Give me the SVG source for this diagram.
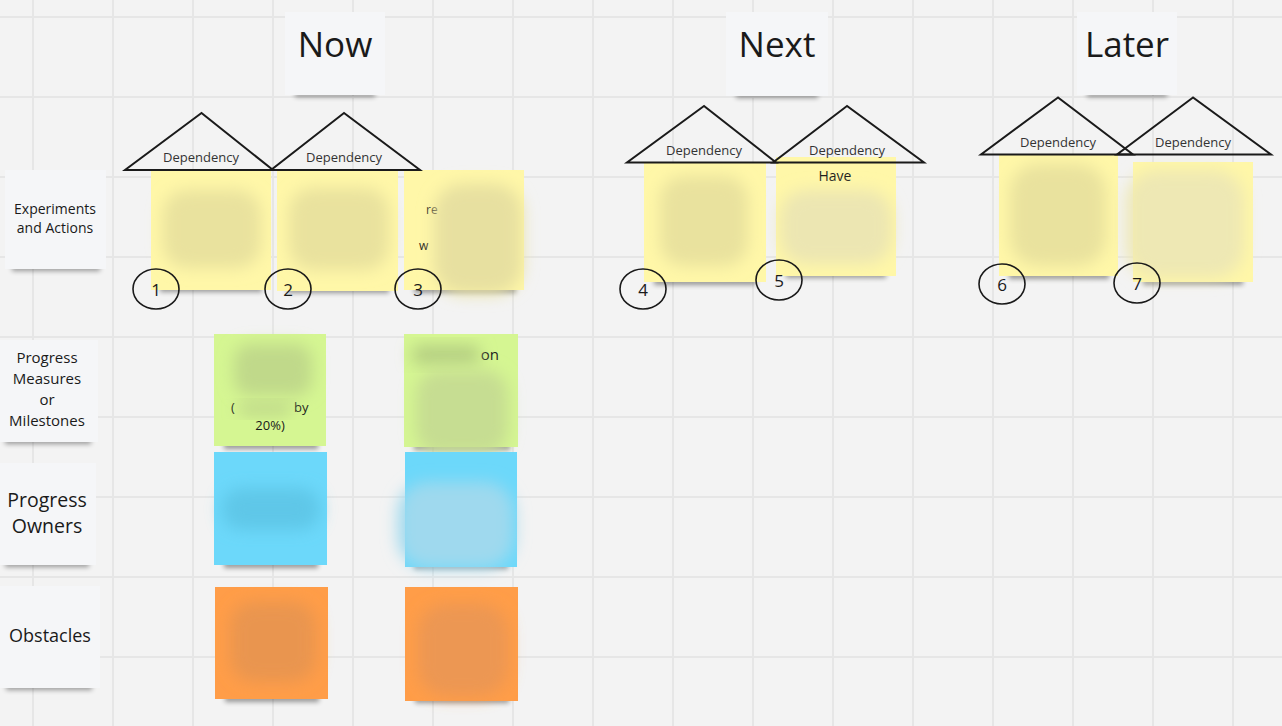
<svg xmlns="http://www.w3.org/2000/svg" width="1282" height="726" viewBox="0 0 1282 726">
<style>
text{font-family:"Open Sans","Liberation Sans",sans-serif;fill:#1a1a1a}
.grid line{stroke:#e6e6e6;stroke-width:2}
.card{fill:#f5f6f8}
.shadow{fill:#000;opacity:.38;filter:url(#sh)}
.head{font-size:35px;text-anchor:middle}
.lbl{text-anchor:middle}
.tri{fill:none;stroke:#1a1a1a;stroke-width:2;stroke-linejoin:miter}
.dep{font-size:13px;text-anchor:middle;fill:#333}
.num{fill:none;stroke:#1a1a1a;stroke-width:1.6}
.numt{font-size:17px;text-anchor:middle}
.yel{fill:#fff7a8}
.grn{fill:#d5f692}
.blu{fill:#6cd8fa}
.org{fill:#ff9d48}
.blob{filter:url(#bl)}
</style>
<defs>
<filter id="sh" x="-20%" y="-200%" width="140%" height="500%"><feGaussianBlur stdDeviation="2.5"/></filter>
<filter id="bl" x="-40%" y="-40%" width="180%" height="180%"><feGaussianBlur stdDeviation="8"/></filter>
</defs>
<rect width="1282" height="726" fill="#f3f3f3"/>
<g class="grid">
<line x1="33" y1="0" x2="33" y2="726"/><line x1="113" y1="0" x2="113" y2="726"/><line x1="193" y1="0" x2="193" y2="726"/><line x1="273" y1="0" x2="273" y2="726"/><line x1="353" y1="0" x2="353" y2="726"/><line x1="433" y1="0" x2="433" y2="726"/><line x1="513" y1="0" x2="513" y2="726"/><line x1="593" y1="0" x2="593" y2="726"/><line x1="673" y1="0" x2="673" y2="726"/><line x1="753" y1="0" x2="753" y2="726"/><line x1="833" y1="0" x2="833" y2="726"/><line x1="913" y1="0" x2="913" y2="726"/><line x1="993" y1="0" x2="993" y2="726"/><line x1="1073" y1="0" x2="1073" y2="726"/><line x1="1153" y1="0" x2="1153" y2="726"/><line x1="1233" y1="0" x2="1233" y2="726"/>
<line x1="0" y1="17" x2="1282" y2="17"/><line x1="0" y1="97" x2="1282" y2="97"/><line x1="0" y1="177" x2="1282" y2="177"/><line x1="0" y1="257" x2="1282" y2="257"/><line x1="0" y1="337" x2="1282" y2="337"/><line x1="0" y1="417" x2="1282" y2="417"/><line x1="0" y1="497" x2="1282" y2="497"/><line x1="0" y1="577" x2="1282" y2="577"/><line x1="0" y1="657" x2="1282" y2="657"/>
</g>

<g id="header-now"><rect class="shadow" x="295" y="91" width="80" height="6"/><rect class="card" x="285" y="12" width="100" height="83"/><text class="head" x="335" y="57">Now</text></g>
<g id="header-next"><rect class="shadow" x="736" y="92" width="82" height="6"/><rect class="card" x="726" y="12" width="102" height="84"/><text class="head" x="777" y="57">Next</text></g>
<g id="header-later"><rect class="shadow" x="1087" y="91" width="80" height="6"/><rect class="card" x="1077" y="12" width="100" height="83"/><text class="head" x="1127" y="57">Later</text></g>

<g id="label-experiments"><rect class="shadow" x="12" y="265" width="88" height="6"/><rect class="card" x="5" y="170" width="101" height="99"/><text class="lbl" x="55" y="214" font-size="14">Experiments</text><text class="lbl" x="55" y="233" font-size="14">and Actions</text></g>
<g id="label-measures"><rect class="shadow" x="5" y="438" width="86" height="6"/><rect class="card" x="0" y="340" width="98" height="102"/><text class="lbl" x="47" y="363" font-size="15">Progress</text><text class="lbl" x="47" y="384" font-size="15">Measures</text><text class="lbl" x="47" y="405" font-size="15">or</text><text class="lbl" x="47" y="426" font-size="15">Milestones</text></g>
<g id="label-owners"><rect class="shadow" x="5" y="561" width="84" height="6"/><rect class="card" x="0" y="463" width="96" height="102"/><text class="lbl" x="47" y="507" font-size="19.5">Progress</text><text class="lbl" x="47" y="533" font-size="19.5">Owners</text></g>
<g id="label-obstacles"><rect class="shadow" x="6" y="684" width="86" height="6"/><rect class="card" x="0" y="586" width="100" height="102"/><text class="lbl" x="50" y="642" font-size="18">Obstacles</text></g>

<g id="note-y1"><rect class="shadow" x="160" y="285" width="102" height="7"/><rect class="yel" x="151" y="171" width="120" height="119"/><rect class="blob" x="163" y="190" width="98" height="78" rx="24" fill="#e9e29e"/></g>
<g id="note-y2"><rect class="shadow" x="287" y="286" width="102" height="7"/><rect class="yel" x="277" y="171" width="121" height="120"/><rect class="blob" x="289" y="188" width="100" height="82" rx="24" fill="#e9e29e"/></g>
<g id="note-y3"><rect class="shadow" x="414" y="286" width="102" height="7"/><rect class="yel" x="404" y="170" width="120" height="120"/><text x="426" y="214" font-size="12" fill="#555">re</text><text x="419" y="250" font-size="12" fill="#555">w</text><rect class="blob" x="434" y="184" width="88" height="110" rx="28" fill="#e7e0a0"/></g>
<g id="note-y4"><rect class="shadow" x="654" y="278" width="102" height="7"/><rect class="yel" x="644" y="162" width="122" height="120"/><rect class="blob" x="660" y="176" width="88" height="90" rx="24" fill="#e9e29e"/></g>
<g id="note-y5"><rect class="shadow" x="786" y="271" width="100" height="7"/><rect class="yel" x="776" y="157" width="120" height="119"/><text x="835" y="181" font-size="14" text-anchor="middle" fill="#8a8560">Have</text><rect class="blob" x="780" y="190" width="112" height="74" rx="26" fill="#ece6b2"/></g>
<g id="note-y6"><rect class="shadow" x="1009" y="272" width="100" height="7"/><rect class="yel" x="999" y="154" width="119" height="122"/><rect class="blob" x="1010" y="164" width="96" height="102" rx="28" fill="#e9e29e"/></g>
<g id="note-y7"><rect class="shadow" x="1143" y="278" width="100" height="7"/><rect class="yel" x="1133" y="162" width="120" height="120"/><rect class="blob" x="1126" y="170" width="118" height="108" rx="30" fill="#eee8b4"/></g>

<g id="note-g1"><rect class="shadow" x="224" y="442" width="94" height="7"/><rect class="grn" x="214" y="334" width="112" height="112"/><text x="231" y="412" font-size="13" fill="#444">(</text><text x="294" y="412" font-size="13" fill="#444">by</text><text x="270" y="430" font-size="13" text-anchor="middle" fill="#333">20%)</text><rect class="blob" x="234" y="344" width="78" height="52" rx="16" fill="#c0d98a"/><rect class="blob" x="238" y="403" width="54" height="12" rx="6" fill="#bcd488"/></g>
<g id="note-g2"><rect class="shadow" x="414" y="443" width="96" height="7"/><rect class="grn" x="404" y="334" width="114" height="113"/><text x="499" y="360" font-size="15" text-anchor="end" fill="#222">on</text><rect class="blob" x="412" y="345" width="68" height="20" rx="8" fill="#b5cf82"/><rect class="blob" x="416" y="370" width="92" height="84" rx="24" fill="#c6dd92"/></g>
<g id="note-b1"><rect class="shadow" x="224" y="561" width="94" height="7"/><rect class="blu" x="214" y="452" width="113" height="113"/><rect class="blob" x="222" y="488" width="98" height="42" rx="20" fill="#5ec7e8"/></g>
<g id="note-b2"><rect class="shadow" x="414" y="562" width="94" height="7"/><rect class="blu" x="405" y="452" width="112" height="115"/><rect class="blob" x="398" y="482" width="116" height="86" rx="30" fill="#9fd9ee"/></g>
<g id="note-o1"><rect class="shadow" x="225" y="695" width="94" height="7"/><rect class="org" x="215" y="587" width="113" height="112"/><rect class="blob" x="230" y="602" width="86" height="80" rx="24" fill="#e99550"/></g>
<g id="note-o2"><rect class="shadow" x="415" y="696" width="94" height="7"/><rect class="org" x="405" y="587" width="113" height="114"/><rect class="blob" x="418" y="604" width="90" height="92" rx="28" fill="#ec9752"/></g>

<g id="dependency-1"><polygon class="tri" points="201.5,113 125,170 273,170"/><text class="dep" x="201" y="162">Dependency</text></g>
<g id="dependency-2"><polygon class="tri" points="344,113 271,170 420,170"/><text class="dep" x="344" y="162">Dependency</text></g>
<g id="dependency-3"><polygon class="tri" points="704,106 627,162.5 776,162.5"/><text class="dep" x="704" y="155">Dependency</text></g>
<g id="dependency-4"><polygon class="tri" points="847,106 773,162.5 924,162.5"/><text class="dep" x="847" y="155">Dependency</text></g>
<g id="dependency-5"><polygon class="tri" points="1058,97.5 981,154.5 1133,154.5"/><text class="dep" x="1058" y="147">Dependency</text></g>
<g id="dependency-6"><polygon class="tri" points="1193,97.5 1117,154.5 1271,154.5"/><text class="dep" x="1193" y="147">Dependency</text></g>

<g id="marker-1"><ellipse class="num" cx="156" cy="289" rx="23" ry="20"/><text class="numt" x="156" y="296">1</text></g>
<g id="marker-2"><ellipse class="num" cx="288" cy="289" rx="23" ry="20"/><text class="numt" x="288" y="296">2</text></g>
<g id="marker-3"><ellipse class="num" cx="418" cy="289" rx="23" ry="20"/><text class="numt" x="418" y="296">3</text></g>
<g id="marker-4"><ellipse class="num" cx="643" cy="289" rx="23" ry="20"/><text class="numt" x="643" y="296">4</text></g>
<g id="marker-5"><ellipse class="num" cx="779" cy="280" rx="23" ry="20"/><text class="numt" x="779" y="287">5</text></g>
<g id="marker-6"><ellipse class="num" cx="1002" cy="284" rx="23" ry="20"/><text class="numt" x="1002" y="291">6</text></g>
<g id="marker-7"><ellipse class="num" cx="1137" cy="283" rx="23" ry="20"/><text class="numt" x="1137" y="290">7</text></g>
</svg>
